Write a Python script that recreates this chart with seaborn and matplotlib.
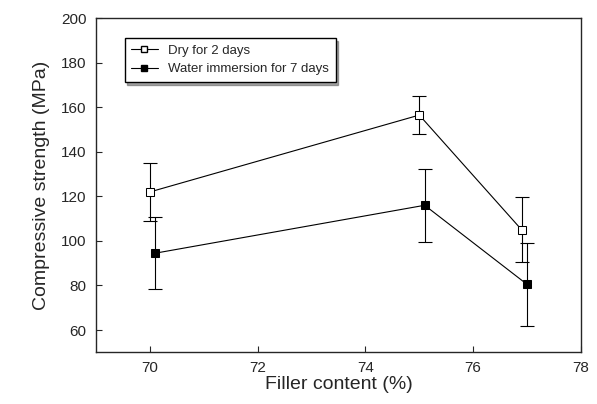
# Compressive strength vs filler content

import seaborn as sns
import pandas as pd
import matplotlib
matplotlib.use("Agg")
import matplotlib.pyplot as plt

# data
filler_dry = [70.0, 75.0, 76.9]
strength_dry = [122, 156.5, 105]
err_dry = [13, 8.5, 14.5]

filler_wet = [70.1, 75.1, 77.0]
strength_wet = [94.5, 116, 80.5]
err_wet = [16.3, 16.3, 18.5]

labels = ["Dry for 2 days", "Water immersion for 7 days"]
x_ticks = [70, 72, 74, 76, 78]
y_ticks = [60, 80, 100, 120, 140, 160, 180, 200]

df = pd.concat([
    pd.DataFrame({"filler": filler_dry, "strength": strength_dry, "err": err_dry, "group": labels[0]}),
    pd.DataFrame({"filler": filler_wet, "strength": strength_wet, "err": err_wet, "group": labels[1]}),
])

sns.set_style("ticks")
plt.rcParams["font.family"] = ["Liberation Sans", "DejaVu Sans"]
plt.rcParams["xtick.direction"] = "in"
plt.rcParams["ytick.direction"] = "in"

fig, ax = plt.subplots(figsize=(5.97, 4.04), dpi=100)
fig.subplots_adjust(left=0.161, right=0.973, top=0.955, bottom=0.128)

# error bars first
for g, sub in df.groupby("group"):
    ax.errorbar(sub["filler"], sub["strength"], yerr=sub["err"], fmt="none",
                ecolor="black", elinewidth=0.8, capsize=5, capthick=0.8, zorder=1)

sns.lineplot(data=df, x="filler", y="strength", hue="group", style="group",
             hue_order=labels, style_order=labels,
             palette=["black", "black"], markers=["s", "s"], dashes=False,
             linewidth=0.8, markersize=6, ax=ax, zorder=2, legend=False)

# open squares for dry, solid for wet
for ln in ax.get_lines():
    xs = list(ln.get_xdata())
    if len(xs) and xs[0] == filler_dry[0]:
        ln.set_markerfacecolor("white")
        ln.set_markeredgecolor("black")
    elif len(xs) and xs[0] == filler_wet[0]:
        ln.set_markerfacecolor("black")
        ln.set_markeredgecolor("black")

h1, = ax.plot([], [], color="black", lw=0.8, marker="s", mfc="white", mec="black", ms=5)
h2, = ax.plot([], [], color="black", lw=0.8, marker="s", mfc="black", mec="black", ms=5)
leg = ax.legend([h1, h2], labels, loc="upper left", bbox_to_anchor=(0.045, 0.96),
                fontsize=9.5, frameon=True, fancybox=False, shadow=True,
                handlelength=2.0, borderpad=0.5, labelspacing=0.45)
leg.get_frame().set_edgecolor("black")
leg.get_frame().set_linewidth(1.0)

ax.set_xlim(69, 78)
ax.set_ylim(50, 200)
ax.set_xticks(x_ticks)
ax.set_yticks(y_ticks)
ax.tick_params(labelsize=11, length=4, width=0.8, right=False, top=False)
ax.tick_params(axis="y", pad=7)
ax.tick_params(axis="x", pad=6)
ax.set_xlabel("Filler content (%)", fontsize=14, labelpad=1)
ax.set_ylabel("Compressive strength (MPa)", fontsize=14, labelpad=8)
for s in ax.spines.values():
    s.set_linewidth(1.0)
    s.set_visible(True)

plt.savefig("out.png", dpi=100)
